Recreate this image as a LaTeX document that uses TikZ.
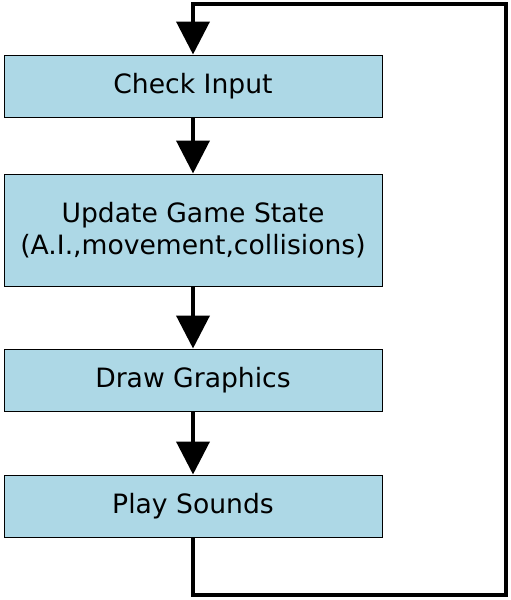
\documentclass[tikz,border=0pt]{standalone}
\usepackage{fontspec}
\setmainfont{DejaVu Sans}
\usetikzlibrary{arrows.meta}
\definecolor{boxblue}{HTML}{ADD8E6}
\begin{document}
\begin{tikzpicture}[x=0.5pt,y=-0.5pt,
  stepbox/.style={draw=black,line width=0.5pt,fill=boxblue,minimum width=189pt,inner sep=0pt,align=center,font=\fontsize{13.3}{16}\selectfont},
  flow/.style={line width=2pt,line join=miter,-{Triangle[length=16.5pt,width=16.5pt]}}]
\useasboundingbox (0,0) rectangle (510,600);
\node[stepbox,minimum height=31pt] (a) at (193,86) {Check Input};
\node[stepbox,minimum height=56pt] (b) at (193,230) {Update Game State\\(A.I.,movement,collisions)};
\node[stepbox,minimum height=31pt] (c) at (193,380) {Draw Graphics};
\node[stepbox,minimum height=31pt] (d) at (193,506) {Play Sounds};
\coordinate (br) at (506,595);
\coordinate (tr) at (506,4);
\draw[flow] (a) -- (b);
\draw[flow] (b) -- (c);
\draw[flow] (c) -- (d);
\draw[flow] (d.south) |- (br) -- (tr) -| (a.north);
\end{tikzpicture}
\end{document}
